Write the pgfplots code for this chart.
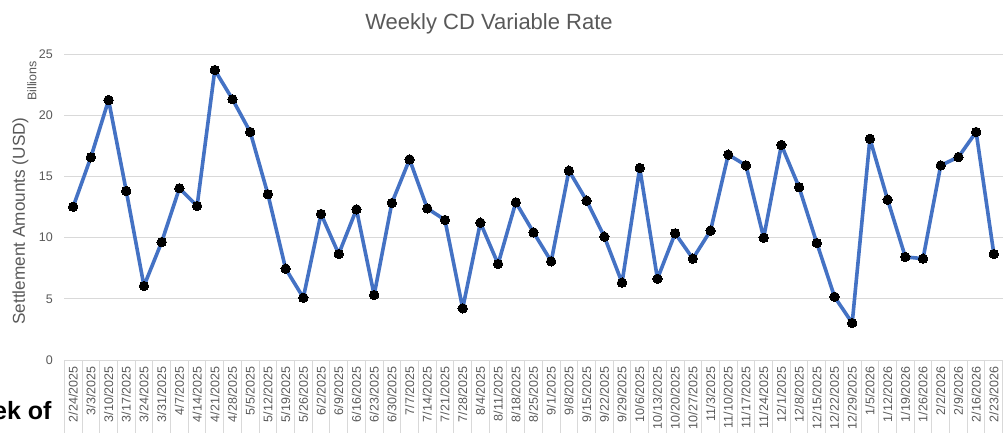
\documentclass[border=0pt]{standalone}
\usepackage{fontspec}
\setmainfont{Liberation Sans}
\usepackage{pgfplots}
\pgfplotsset{compat=1.18}
\usepackage{pgfplotstable}

\definecolor{lineblue}{RGB}{68,114,196}
\definecolor{txtgray}{RGB}{89,89,89}
\definecolor{gridgray}{RGB}{217,217,217}

% weekly settlement amounts, billions USD (index 0 = 2/24/2025)
\pgfplotstableread{
idx val
0  12.52
1  16.56
2  21.24
3  13.81
4  6.05
5  9.64
6  14.03
7  12.58
8  23.69
9  21.30
10 18.63
11 13.54
12 7.46
13 5.09
14 11.93
15 8.66
16 12.31
17 5.31
18 12.83
19 16.39
20 12.39
21 11.44
22 4.22
23 11.22
24 7.84
25 12.88
26 10.43
27 8.06
28 15.47
29 13.02
30 10.08
31 6.32
32 15.69
33 6.64
34 10.35
35 8.28
36 10.57
37 16.78
38 15.90
39 9.99
40 17.57
41 14.11
42 9.56
43 5.17
44 3.02
45 18.08
46 13.10
47 8.42
48 8.28
49 15.90
50 16.58
51 18.63
52 8.66
}\cdrate

\begin{document}
\begin{tikzpicture}[x=1pt,y=1pt]
\path[use as bounding box] (0,0) rectangle (1004,432);
\clip (0,0) rectangle (1004,432);

\begin{axis}[
    scale only axis,
    width=938.4pt, height=306pt,
    at={(64.3pt,72pt)}, anchor=south west,
    xmin=-0.5, xmax=52.5, ymin=0, ymax=25,
    axis lines*=left,
    y axis line style={draw=none},
    x axis line style={draw=gridgray, line width=1pt},
    ytick={0,5,...,25},
    ymajorgrids, grid style={gridgray, line width=1pt},
    xtick={0,...,52},
    xticklabels={2/24/2025,3/3/2025,3/10/2025,3/17/2025,3/24/2025,3/31/2025,4/7/2025,4/14/2025,4/21/2025,4/28/2025,5/5/2025,5/12/2025,5/19/2025,5/26/2025,6/2/2025,6/9/2025,6/16/2025,6/23/2025,6/30/2025,7/7/2025,7/14/2025,7/21/2025,7/28/2025,8/4/2025,8/11/2025,8/18/2025,8/25/2025,9/1/2025,9/8/2025,9/15/2025,9/22/2025,9/29/2025,10/6/2025,10/13/2025,10/20/2025,10/27/2025,11/3/2025,11/10/2025,11/17/2025,11/24/2025,12/1/2025,12/8/2025,12/15/2025,12/22/2025,12/29/2025,1/5/2026,1/12/2026,1/19/2026,1/26/2026,2/2/2026,2/9/2026,2/16/2026,2/23/2026},
    minor xtick={-0.5,0.5,...,52.5},
    tick align=outside,
    major tick length=0pt,
    minor tick length=80pt,
    minor tick style={gridgray, line width=1pt},
    /pgf/number format/assume math mode=true,
    xticklabel style={rotate=90, anchor=east, font=\fontsize{12.5}{14}\selectfont, color=txtgray, xshift=-3pt},
    yticklabel style={font=\fontsize{12.5}{14}\selectfont, color=txtgray, xshift=-8pt},
    clip=false,
]
\addplot[color=lineblue, line width=3.6pt, line join=round,
    mark=*, mark size=4.7pt, mark options={fill=black, draw=black, line width=0pt}]
    table[x=idx, y=val] {\cdrate};
\end{axis}

\node[anchor=base, text=txtgray, font=\fontsize{22}{26}\selectfont] at (489,402.7) {Weekly CD Variable Rate};
\node[rotate=90, text=txtgray, font=\fontsize{17.2}{20}\selectfont] at (20.5,211) {Settlement Amounts (USD)};
\node[rotate=90, text=txtgray, font=\fontsize{12.5}{14}\selectfont] at (32,351) {Billions};
\node[anchor=base east, font=\bfseries\fontsize{25}{28}\selectfont] at (55,13) {Week of};
\end{tikzpicture}
\end{document}
